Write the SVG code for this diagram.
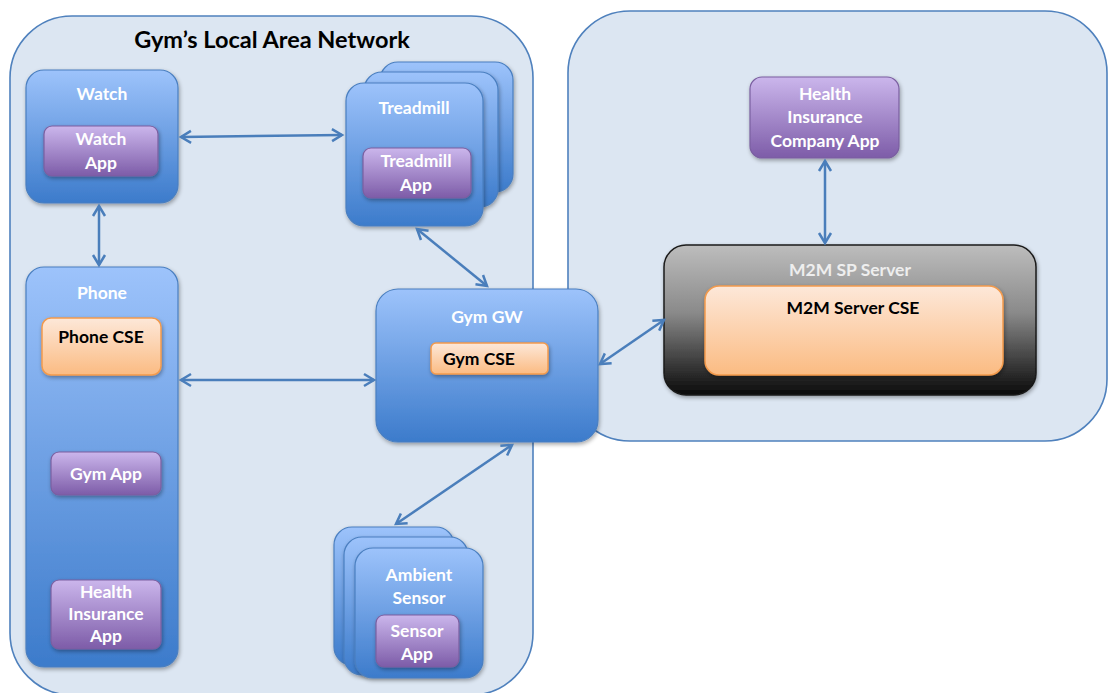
<svg xmlns="http://www.w3.org/2000/svg" width="1108" height="693" viewBox="0 0 1108 693">
<defs>
<linearGradient id="gBlue" x1="0" y1="0" x2="0" y2="1">
<stop offset="0" stop-color="#9dc3fb"/><stop offset="1" stop-color="#3c7bcb"/>
</linearGradient>
<linearGradient id="gPurple" x1="0" y1="0" x2="0" y2="1">
<stop offset="0" stop-color="#cbb6ec"/><stop offset="1" stop-color="#7d5ca8"/>
</linearGradient>
<linearGradient id="gOrange" x1="0" y1="0" x2="0" y2="1">
<stop offset="0" stop-color="#fde8d9"/><stop offset="1" stop-color="#fbbb82"/>
</linearGradient>
<linearGradient id="gDark" x1="0" y1="0" x2="0" y2="1">
<stop offset="0" stop-color="#bdbdbd"/><stop offset="0.45" stop-color="#8a8a8a"/><stop offset="1" stop-color="#0a0a0a"/>
</linearGradient>
<filter id="sh" x="-10%" y="-10%" width="130%" height="130%">
<feGaussianBlur in="SourceAlpha" stdDeviation="2"/>
<feOffset dx="1" dy="2" result="b"/>
<feComponentTransfer><feFuncA type="linear" slope="0.35"/></feComponentTransfer>
<feMerge><feMergeNode/><feMergeNode in="SourceGraphic"/></feMerge>
</filter>
<marker id="ah" markerUnits="userSpaceOnUse" markerWidth="16" markerHeight="16" refX="13" refY="8" orient="auto-start-reverse">
<path d="M3,2 L13,8 L3,14" fill="none" stroke="#4a7ebb" stroke-width="2.5" stroke-linejoin="miter"/>
</marker>
</defs>
<style>
.cont{fill:#dce6f2;stroke:#4f81bd;stroke-width:1.6}
.blue{fill:url(#gBlue);stroke:#4a7fc0;stroke-width:1.2;filter:url(#sh)}
.purple{fill:url(#gPurple);stroke:#7a5fa0;stroke-width:1.2;filter:url(#sh)}
.orange{fill:url(#gOrange);stroke:#f39a4c;stroke-width:1.5;filter:url(#sh)}
.dark{fill:url(#gDark);stroke:#1a1a1a;stroke-width:1.5;filter:url(#sh)}
text{font-family:Lato,"Open Sans","Liberation Sans",sans-serif;font-weight:bold;text-anchor:middle}
.w{fill:#ffffff;font-size:17.5px}
.k{fill:#000000;font-size:17.5px}
.t{fill:#000000;font-size:23.5px}
.g{fill:#eeeeee;font-size:17.5px}
.conn line{stroke:#4a7ebb;stroke-width:2.5;marker-start:url(#ah);marker-end:url(#ah)}
</style>
<rect width="1108" height="693" fill="#ffffff"/>

<g id="sp-domain">
<rect class="cont" x="568" y="11" width="539" height="430" rx="62"/>
</g>
<g id="lan">
<rect class="cont" x="10" y="16" width="523" height="679" rx="62"/>
<text class="t" x="272" y="48">Gym’s Local Area Network</text>
</g>

<g id="watch">
<rect class="blue" x="26" y="70" width="152" height="133" rx="18"/>
<text class="w" x="102" y="100">Watch</text>
<rect class="purple" x="44" y="126" width="114" height="50" rx="8"/>
<text class="w" x="101" y="145">Watch</text>
<text class="w" x="101" y="169">App</text>
</g>

<g id="treadmill">
<rect class="blue" x="380" y="62" width="133" height="130" rx="18"/>
<rect class="blue" x="364" y="72" width="134" height="135" rx="18"/>
<rect class="blue" x="346" y="83" width="137" height="143" rx="18"/>
<text class="w" x="414" y="114">Treadmill</text>
<rect class="purple" x="363" y="148" width="108" height="50" rx="8"/>
<text class="w" x="416" y="167">Treadmill</text>
<text class="w" x="416" y="191">App</text>
</g>

<g id="phone">
<rect class="blue" x="26" y="267" width="152" height="400" rx="18"/>
<text class="w" x="102" y="299">Phone</text>
<rect class="orange" x="42" y="318" width="119" height="57" rx="9"/>
<text class="k" x="101" y="343">Phone CSE</text>
</g>
<g id="gym-app">
<rect class="purple" x="51" y="452" width="110" height="43" rx="8"/>
<text class="w" x="106" y="480">Gym App</text>
</g>
<g id="health-insurance-app">
<rect class="purple" x="51" y="580" width="110" height="69" rx="8"/>
<text class="w" x="106" y="598">Health</text>
<text class="w" x="106" y="620">Insurance</text>
<text class="w" x="106" y="642">App</text>
</g>

<g id="gym-gw">
<rect class="blue" x="376" y="289" width="222" height="153" rx="22"/>
<text class="w" x="487" y="323">Gym GW</text>
<rect class="orange" x="431" y="343" width="117" height="31" rx="5"/>
<text class="k" x="479" y="365">Gym CSE</text>
</g>

<g id="ambient-sensor">
<rect class="blue" x="334" y="527" width="120" height="138" rx="18"/>
<rect class="blue" x="344" y="537" width="124" height="138" rx="18"/>
<rect class="blue" x="355" y="548" width="128" height="130" rx="18"/>
<text class="w" x="419" y="581">Ambient</text>
<text class="w" x="419" y="604">Sensor</text>
<rect class="purple" x="376" y="615" width="83" height="52" rx="8"/>
<text class="w" x="417" y="637">Sensor</text>
<text class="w" x="417" y="660">App</text>
</g>

<g id="health-insurance-company-app">
<rect class="purple" x="750" y="77" width="149" height="81" rx="12"/>
<text class="w" x="825" y="100">Health</text>
<text class="w" x="825" y="123">Insurance</text>
<text class="w" x="825" y="147">Company App</text>
</g>

<g id="m2m-sp-server">
<rect class="dark" x="664" y="245" width="372" height="150" rx="22"/>
<text class="g" x="850" y="276">M2M SP Server</text>
<rect class="orange" x="705" y="286" width="298" height="89" rx="14"/>
<text class="k" x="853" y="314">M2M Server CSE</text>
</g>

<g id="connectors" class="conn">
<line x1="181" y1="137" x2="342" y2="135"/>
<line x1="99" y1="206" x2="99" y2="265"/>
<line x1="181" y1="380" x2="374" y2="380"/>
<line x1="417" y1="229" x2="487" y2="286"/>
<line x1="512" y1="445" x2="396" y2="524"/>
<line x1="600" y1="364" x2="664" y2="320"/>
<line x1="825" y1="161" x2="825" y2="243"/>
</g>
</svg>
